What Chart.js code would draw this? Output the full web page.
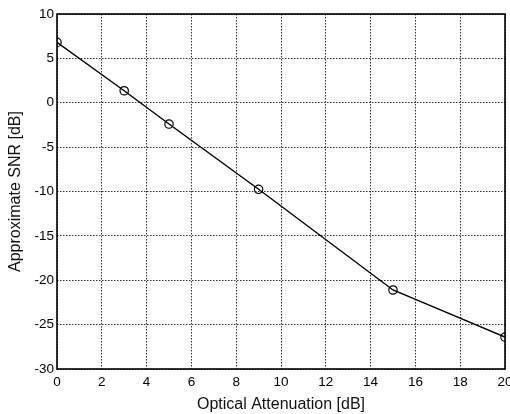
<!DOCTYPE html>
<html><head><meta charset="utf-8">
<script src="https://cdn.jsdelivr.net/npm/chart.js@4/dist/chart.umd.min.js"></script>
<style>
html,body{margin:0;padding:0;background:#fff;overflow:hidden;width:510px;height:414px;}
#wrap{position:absolute;left:0;top:0;width:530px;height:414px;}
</style></head>
<body>
<div id="wrap"><canvas id="c" width="530" height="414"></canvas></div>
<script>
const attenuation = [0, 3, 5, 9, 15, 20];
const snr = [6.8, 1.35, -2.4, -9.75, -21.1, -26.4];
const xTicks = [0, 2, 4, 6, 8, 10, 12, 14, 16, 18, 20];
const yTicks = [10, 5, 0, -5, -10, -15, -20, -25, -30];
const xTitle = 'Optical Attenuation [dB]';
const yTitle = 'Approximate SNR [dB]';

const family = 'Liberation Sans, Arial, sans-serif';
const tickFont = {family, size: 13.5};
const titleFont = {family, size: 16};
new Chart(document.getElementById('c'), {
  type: 'line',
  data: {datasets: [{
    data: attenuation.map((x, i) => ({x, y: snr[i]})),
    borderColor: '#000', borderWidth: 1.4,
    pointRadius: 4.2, pointBorderWidth: 1.2,
    pointBackgroundColor: 'rgba(0,0,0,0)', pointBorderColor: '#000',
    tension: 0
  }]},
  options: {
    responsive: false, animation: false,
    layout: {padding: {top: 14, right: 25, left: 0, bottom: 0}},
    plugins: {legend: {display: false}, tooltip: {enabled: false}},
    scales: {
      x: {
        type: 'linear', min: 0, max: 20,
        afterBuildTicks: s => { s.ticks = xTicks.map(v => ({value: v})); },
        afterFit: s => { s.height = 45; },
        grid: {color: '#333', lineWidth: 1, drawTicks: false},
        border: {display: false, dash: [1.5, 1.5]},
        ticks: {color: '#000', font: tickFont, padding: 5, maxRotation: 0, autoSkip: false},
        title: {display: true, text: xTitle, color: '#111', font: titleFont, padding: {top: 0, bottom: 0}}
      },
      y: {
        type: 'linear', min: -30, max: 10,
        afterBuildTicks: s => { s.ticks = yTicks.map(v => ({value: v})); },
        afterFit: s => { s.width = 57; },
        grid: {color: '#333', lineWidth: 1, drawTicks: false},
        border: {display: false, dash: [1.5, 1.5]},
        ticks: {color: '#000', font: tickFont, padding: 3, autoSkip: false},
        title: {display: true, text: yTitle, color: '#111', font: titleFont, padding: {top: 6, bottom: 0}}
      }
    }
  },
  plugins: [{
    id: 'frame',
    afterDatasetsDraw(chart) {
      const {ctx, chartArea: a} = chart;
      ctx.save();
      ctx.strokeStyle = '#000'; ctx.lineWidth = 1.6;
      ctx.strokeRect(a.left, a.top, a.right - a.left, a.bottom - a.top);
      ctx.restore();
    }
  }]
});
</script>
</body></html>
